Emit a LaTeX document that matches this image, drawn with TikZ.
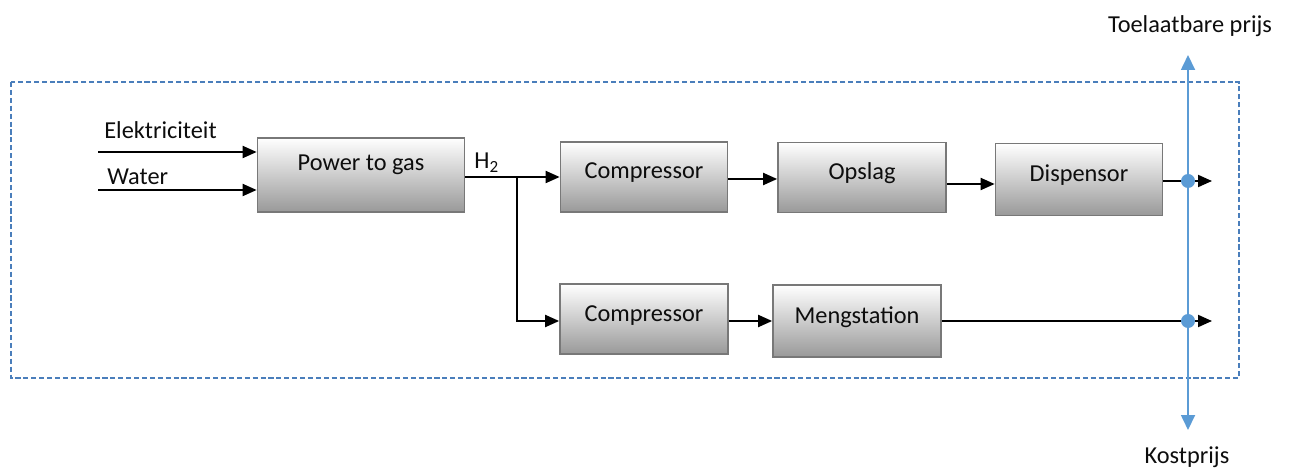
\documentclass[tikz,border=0pt]{standalone}
\usepackage{fontspec}
\setmainfont{Carlito}
\usetikzlibrary{arrows.meta}
\definecolor{kaderblauw}{RGB}{74,126,187}
\definecolor{prijsblauw}{RGB}{91,155,213}
\definecolor{randgrijs}{RGB}{120,120,120}

\begin{document}
\begin{tikzpicture}[x=0.02cm,y=-0.02cm,
    every node/.style={font=\fontsize{13.85}{16}\selectfont,text=black!95},
    blok/.style={draw=randgrijs,line width=1pt,top color=white,bottom color=black!40,
      minimum width=3.34cm,minimum height=1.4cm,inner sep=0pt,
      text height=0.33cm,text depth=0.25cm},
    lbl/.style={inner sep=0pt},
    pijl/.style={line width=1.1pt,-{Triangle[length=0.28cm,width=0.24cm]}},
    prijs/.style={prijsblauw,line width=1pt,
      {Triangle[length=0.3cm,width=0.28cm]}-{Triangle[length=0.3cm,width=0.28cm]}},
    punt/.style={circle,fill=prijsblauw,inner sep=0pt,minimum size=0.28cm},
    kader/.style={kaderblauw,line width=1.1pt,dash pattern=on 2.9pt off 1.6pt}]
  \useasboundingbox (0,0) rectangle (1290,469);

  \draw[kader] (11,82) rectangle (1239,378);

  \node[blok,minimum width=4.14cm,minimum height=1.48cm,text depth=0.5cm] (ptg) at (361,175) {Power to gas};
  \node[blok] (comp1) at (644,177) {Compressor};
  \node[blok,minimum width=3.36cm] (opslag) at (862,177.5) {Opslag};
  \node[blok,minimum height=1.44cm] (disp) at (1079,179.5) {Dispensor};
  \node[blok,minimum width=3.36cm] (comp2) at (644,319) {Compressor};
  \node[blok,minimum width=3.36cm,minimum height=1.44cm] (meng) at (857,321) {Mengstation};

  \coordinate (elek) at (98,152);
  \coordinate (water) at (98,190);
  \coordinate (splits) at (517,177);
  \coordinate (boven) at (1188,55);
  \coordinate (onder) at (1188,430);
  \coordinate (uit1) at (1212,181);
  \coordinate (uit2) at (1212,321);

  \node[lbl,anchor=base west] (elektxt) at (104,139) {Elektriciteit};
  \node[lbl,anchor=base west] (watertxt) at (107,185) {Water};
  \node[lbl,anchor=base west] (h2) at (474,169) {H\textsubscript{2}};
  \node[lbl,anchor=base] (toelaatbaar) at (1190,33) {Toelaatbare prijs};
  \node[lbl,anchor=base] (kostprijs) at (1187,463) {Kostprijs};

  \draw[prijs] (onder) -- (boven);

  \draw[pijl] (elek) -- (elek -| ptg.west);
  \draw[pijl] (water) -- (water -| ptg.west);
  \draw[pijl] (ptg.east |- comp1.west) -- (comp1.west);
  \draw[pijl] (splits) |- (comp2.west |- meng.west);
  \draw[pijl] ([yshift=-0.04cm]comp1.east) -- ([yshift=-0.04cm]comp1.east -| opslag.west);
  \draw[pijl] ([yshift=-0.13cm]opslag.east) -- ([yshift=-0.13cm]opslag.east -| disp.west);
  \draw[pijl] (disp.east |- uit1) -- (uit1);
  \draw[pijl] (comp2.east |- meng.west) -- (meng.west);
  \draw[pijl] (meng.east) -- (uit2);

  \node[punt] (p1) at (boven |- uit1) {};
  \node[punt] (p2) at (boven |- uit2) {};
\end{tikzpicture}
\end{document}
